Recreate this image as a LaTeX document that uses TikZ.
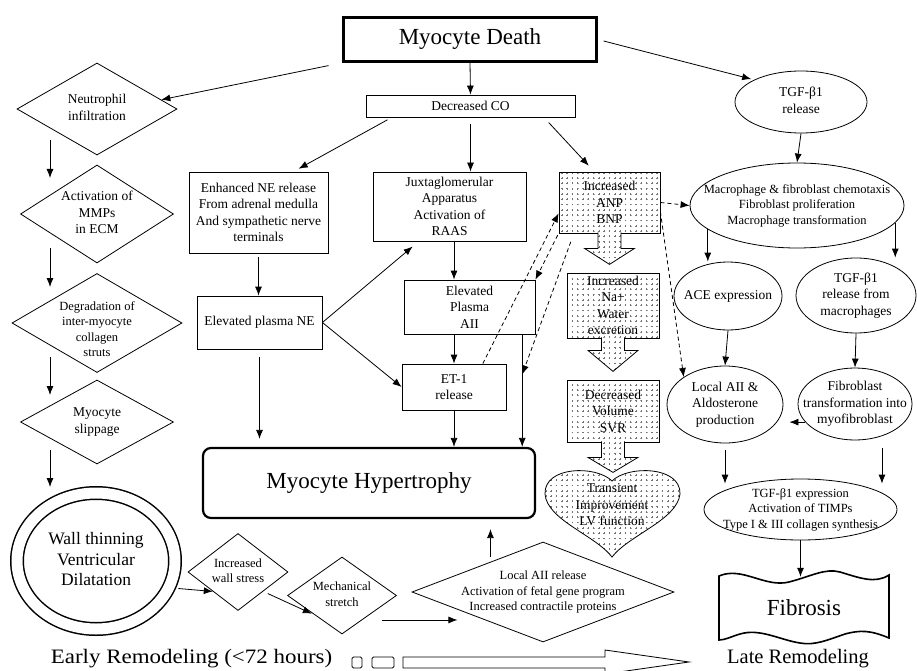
\documentclass[tikz,border=0pt]{standalone}
\usepackage{fontspec}
\setmainfont{Liberation Serif}
\usepackage{tikz}
\usetikzlibrary{calc}
\usetikzlibrary{shapes.geometric}
\usetikzlibrary{arrows.meta}
\usetikzlibrary{patterns}

\newcommand{\ftsmall}{\fontsize{13.5}{16.5}\selectfont}
\newcommand{\ftsm}{\fontsize{12.5}{15.5}\selectfont}
\newcommand{\ftbig}{\fontsize{23}{27}\selectfont}
\newcommand{\ftmid}{\fontsize{20.5}{24}\selectfont}
\newcommand{\ftwall}{\fontsize{17.5}{20.5}\selectfont}
\newcommand{\zt}[2][-0.25em]{\makebox[0pt]{\raisebox{#1}[0pt][0pt]{\begin{tabular}{@{}c@{}}#2\end{tabular}}}}

\pgfdeclarepatternformonly{speckle}{\pgfqpoint{-1pt}{-1pt}}{\pgfqpoint{1pt}{1pt}}{\pgfqpoint{5.3pt}{5.3pt}}{%
  \pgfsetlinewidth{0.45pt}
  \pgfpathmoveto{\pgfqpoint{-0.9pt}{0pt}}\pgfpathlineto{\pgfqpoint{0.9pt}{0pt}}
  \pgfpathmoveto{\pgfqpoint{0pt}{-0.9pt}}\pgfpathlineto{\pgfqpoint{0pt}{0.9pt}}
  \pgfusepath{stroke}}

\newcommand{\blk}[3]{%
  \draw[speck] ($(#1)+(-11.5,-1)$) -- ($(#1)+(-11.5,#2)$) -- ($(#1)+(-25,#2)$) -- ($(#1)+(0,#3)$)
    -- ($(#1)+(25,#2)$) -- ($(#1)+(11.5,#2)$) -- ($(#1)+(11.5,-1)$);}

\begin{document}
\begin{tikzpicture}[x=1pt,y=-1pt,
  rbox/.style={draw, line width=0.8pt, inner sep=1pt, align=center, font=\ftsmall},
  dmd/.style={draw, diamond, inner sep=0pt, line width=0.8pt, font=\ftsmall},
  ell/.style={draw, ellipse, inner sep=0pt, line width=0.8pt, font=\ftsmall},
  speck/.style={preaction={fill=white}, pattern=speckle, pattern color=black!55, line width=0.8pt},
  arr/.style={-{Latex[length=9pt,width=7pt]}, line width=0.8pt},
  dsh/.style={arr, dash pattern=on 4pt off 3pt}]
\useasboundingbox (0,0) rectangle (917,671);

\node[rbox, line width=2.6pt, minimum width=253, minimum height=44, font=\ftbig] (death) at (470,39.5) {Myocyte Death};
\node[rbox, minimum width=209, minimum height=22] (co) at (470.5,106) {Decreased CO};

\node[dmd, minimum width=160, minimum height=92] (neut) at (97,109) {\zt{Neutrophil\\infiltration}};
\node[dmd, minimum width=153, minimum height=98] (mmp) at (97,214) {\zt{Activation of\\MMPs\\in ECM}};
\node[dmd, minimum width=170, minimum height=99, font=\ftsm] (degr) at (97,323) {\zt[-0.85em]{Degradation of\\inter-myocyte\\collagen\\struts}};
\node[dmd, minimum width=153, minimum height=84] (slip) at (97,422) {\zt{Myocyte\\slippage}};
\node[ell, double, double distance=11pt, line width=1.5pt, minimum width=158, minimum height=136, font=\ftwall] (wall) at (96,561) {\zt{Wall thinning\\Ventricular\\Dilatation}};

\node[rbox, minimum width=139, minimum height=81] (ene) at (258.5,212.5) {Enhanced NE release\\From adrenal medulla\\And sympathetic nerve\\terminals};
\node[rbox, minimum width=125, minimum height=53] (pne) at (259.5,322.5) {Elevated plasma NE};
\node[rbox, minimum width=153, minimum height=69, inner sep=0pt] (jga) at (449.5,206.5) {Juxtaglomerular\\Apparatus\\Activation of\\RAAS};
\node[rbox, minimum width=131, minimum height=54] (aii) at (469.5,307) {Elevated\\Plasma\\AII};
\node[rbox, minimum width=104, minimum height=46] (et1) at (454,387) {ET-1\\release};

\node[rbox, speck, minimum width=101, minimum height=61] (anp) at (609.5,202.5) {Increased\\ANP\\BNP};
\node[rbox, speck, minimum width=92, minimum height=65, inner sep=0pt] (na) at (613,305.5) {Increased\\Na+\\Water\\excretion};
\node[rbox, speck, minimum width=92, minimum height=62] (svr) at (613,411) {Decreased\\Volume\\SVR};
\draw[speck] (612,481) .. controls (596,465) and (544,466) .. (545,494) .. controls (547,520) and (595,535) .. (612,557)
  .. controls (629,535) and (677,520) .. (680,494) .. controls (681,466) and (628,465) .. (612,481) -- cycle;
\node[font=\ftsmall, align=center, inner sep=0pt] (heart) at (612,505) {Transient\\Improvement\\LV function};

\node[rbox, rounded corners=8pt, line width=2.2pt, minimum width=332, minimum height=70, font=\ftbig] (hyp) at (369,483) {Myocyte Hypertrophy};
\node[dmd, minimum width=262, minimum height=100, font=\ftsm] (local) at (543,592) {\zt{Local AII release\\Activation of fetal gene program\\Increased contractile proteins}};
\node[dmd, minimum width=100, minimum height=77, font=\ftsm] (stress) at (238,572) {\zt{Increased\\wall stress}};
\node[dmd, minimum width=109, minimum height=77, font=\ftsm] (mech) at (342,595.5) {\zt{Mechanical\\stretch}};

\node[ell, minimum width=132, minimum height=62] (tgf) at (801,102) {\zt{TGF-β1\\release}};
\node[ell, minimum width=214, minimum height=85, font=\ftsm] (macro) at (797,205.5) {\zt{Macrophage \& fibroblast chemotaxis\\Fibroblast proliferation\\Macrophage transformation}};
\node[ell, minimum width=108, minimum height=68] (ace) at (728,296) {\zt{ACE expression}};
\node[ell, minimum width=120, minimum height=75] (tgfm) at (856,295.5) {\zt{TGF-β1\\release from\\macrophages}};
\node[ell, minimum width=116, minimum height=77] (laldo) at (725,404.5) {\zt{Local AII \&\\Aldosterone\\production}};
\node[ell, minimum width=114, minimum height=72] (fibt) at (855,404) {\zt{Fibroblast\\transformation into\\myofibroblast}};
\node[ell, minimum width=193, minimum height=61, font=\ftsm] (tgfe) at (800.5,509.5) {\zt{TGF-β1 expression\\Activation of TIMPs\\Type I \& III collagen synthesis}};
\node[font=\ftbig, minimum width=170, minimum height=62] (fib) at (804,608) {Fibrosis};
\draw[line width=1.6pt] (719,576) .. controls (742,566) and (765,588) .. (789,582) .. controls (812,576) and (825,568) .. (840,572)
  .. controls (860,578) and (875,584) .. (889,575) -- (889,638) .. controls (870,630) and (860,630) .. (845,634)
  .. controls (830,639) and (815,646) .. (800,643) .. controls (780,640) and (760,628) .. (740,634)
  .. controls (730,637) and (725,640) .. (719,640) -- cycle;

\node[font=\ftmid] (early) at (191.5,659) {\scalebox{1.12}[1]{Early Remodeling (<72 hours)}};
\node[font=\ftmid] (late) at (798,659) {Late Remodeling};
\draw[line width=0.8pt, rounded corners=1.5pt] (352,657) rectangle (362,668);
\draw[line width=0.8pt, rounded corners=1.5pt] (372,657) rectangle (394,668);
\draw[line width=0.8pt] (403,657) -- (605,657) -- (605,650) -- (689,662) -- (605,674) -- (605,668) -- (403,668) -- cycle;

\draw[arr] (death.south) -- (co.north);
\draw[arr, shorten <=14pt] (death.south west) -- ($(neut.east)!0.2!(neut.north)$);
\draw[arr, shorten <=6pt, shorten >=3pt] (death.east) -- (tgf.north west);
\draw[arr, shorten <=5pt, shorten >=6pt] ($(co.south)!0.75!(co.south west)$) -- ($(ene.north)!0.5!(ene.north east)$);
\draw[arr, shorten <=7pt] (co.south) -- (co.south |- jga.north);
\draw[arr, shorten <=7pt, shorten >=8pt] ($(co.south)!0.7!(co.south east)$) -- ($(anp.north west)!0.35!(anp.north east)$);

\draw[arr] ($(neut)+(-47,31)$) -- ($(mmp)+(-47,-36)$);
\draw[arr] ($(mmp)+(-47,34)$) -- ($(degr)+(-47,-36)$);
\draw[arr] ($(degr)+(-47,34)$) -- ($(slip)+(-47,-27)$);
\draw[arr] ($(slip)+(-47,28)$) -- ($(wall)+(-46,-74)$);

\draw[arr, shorten <=4pt] (ene.south) -- (ene.south |- pne.north);
\draw[arr, shorten <=8pt, shorten >=8pt] (pne.south) -- (pne.south |- hyp.north);
\draw[arr, shorten >=8pt] (pne.east) -- ($(jga.south west)!0.6!(jga.south)$);
\draw[arr] (pne.east) -- (et1.west);
\draw[arr] (jga.south -| et1.north) -- (et1.north |- aii.north);
\draw[arr] (aii.south -| et1.north) -- (et1.north);
\draw[arr] (et1.south) -- (et1.south |- hyp.north);
\coordinate (aiiline) at ($(aii.south)!0.8!(aii.south east)$);
\draw[arr] (aiiline) -- (aiiline |- hyp.north);

\draw[dsh] ($(et1.north)!0.55!(et1.north east)$) -- ($(anp.west)!0.35!(anp.south west)$);
\draw[dsh, shorten <=2pt] (anp.south west) -- (aii.north east);
\coordinate (hit) at ($(aiiline)+(0,40)$);
\draw[dsh, shorten <=9pt] ($(anp.south west)!0.15!(anp.south east)$) -- (hit);
\draw[dsh] (anp.east) -- (macro.west);
\draw[dsh] ($(anp.east)!0.3!(anp.south east)$) -- (laldo.north west);

\blk{anp.south}{15}{31}
\blk{na.south}{12}{33}
\blk{svr.south}{15}{30}

\draw[arr] (tgf.south) -- (macro.north);
\draw[arr] (macro.195) -- (macro.195 |- ace.north);
\draw[arr] (macro.-10) -- (macro.-10 |- tgfm.north);
\draw[arr] (ace.south) -- (laldo.north);
\draw[arr] (tgfm.south) -- (fibt.north);
\draw[arr, shorten >=6pt] (fibt.200) -- (fibt.200 -| laldo.east);
\draw[arr, shorten <=7pt, shorten >=-5pt] (laldo.south) -- (laldo.south |- tgfe.north);
\draw[arr, shorten <=12pt, shorten >=-5pt] (fibt.310) -- (fibt.310 |- tgfe.north);
\draw[arr] (tgfe.south) -- (tgfe.south |- fib.north);

\draw[arr, shorten <=9pt] (wall.-20) -- (stress.south west);
\draw[arr, shorten <=5pt, shorten >=3pt] (stress.south east) -- (mech.south west);
\coordinate (mechend) at ($(mech.south east)+(88,5)$);
\draw[arr] ($(mech.east |- mechend)+(-15,0)$) -- (mechend);
\coordinate (lup) at ($(local.north)!0.4!(local.west)$);
\draw[arr, shorten <=5pt, shorten >=10pt] (lup) -- (lup |- hyp.south);
\end{tikzpicture}
\end{document}
